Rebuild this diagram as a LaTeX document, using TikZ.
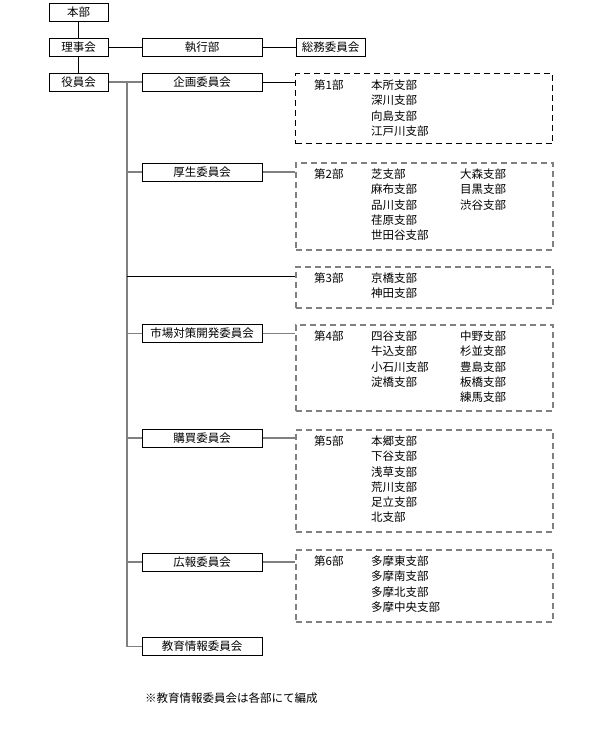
\documentclass[tikz,border=0pt]{standalone}
\usepackage{fontspec}
\newfontfamily\jpfont{Noto Sans CJK JP}
\usetikzlibrary{positioning}

\begin{document}
\begin{tikzpicture}[x=1pt,y=-1pt,
    schrift/.style={font=\jpfont\fontsize{11.5}{15.2}\selectfont},
    kasten/.style={draw,line width=1pt,minimum height=18pt,inner sep=0pt,schrift},
    linie/.style={line width=1pt},
    grau/.style={draw=gray,line width=1.5pt},
    bu/.style={draw=gray,line width=1.5pt,dash pattern=on 6pt off 4pt,minimum width=257pt,anchor=north west,inner sep=0pt},
    liste/.style={schrift,inner sep=0pt,align=left}]
    \useasboundingbox (0,0) rectangle (600,734);
    %Leitung
    \node[kasten,minimum width=59pt] (honbu) at (78.5,12) {本部};
    \node[kasten,minimum width=59pt] (rijikai) at (78.5,47) {理事会};
    \node[kasten,minimum width=59pt] (yakuin) at (78.5,82) {役員会};
    \node[kasten,minimum width=120pt] (shikko) at (202,47) {執行部};
    \node[kasten,minimum width=69pt] (somu) at (330.5,47) {総務委員会};
    %Ausschuesse
    \node[kasten,minimum width=120pt] (kikaku) at (202,82) {企画委員会};
    \node[kasten,minimum width=120pt] (kosei) at (202,172) {厚生委員会};
    \node[kasten,minimum width=120pt] (ichiba) at (202,333.5) {市場対策開発委員会};
    \node[kasten,minimum width=120pt] (kobai) at (202,438) {購買委員会};
    \node[kasten,minimum width=120pt] (koho) at (202,562) {広報委員会};
    \node[kasten,minimum width=120pt] (kyoiku) at (202,646.5) {教育情報委員会};
    %Bloecke
    \node[bu,draw=black,line width=1pt,minimum height=70pt] (bu1) at (295,73) {};
    \node[bu,minimum height=87pt] (bu2) at (295,162) {};
    \node[bu,minimum height=41pt] (bu3) at (295,266) {};
    \node[bu,minimum height=86pt] (bu4) at (295,324) {};
    \node[bu,minimum height=102pt] (bu5) at (295,429) {};
    \node[bu,minimum height=72pt] (bu6) at (295,549) {};
    \node[liste,below right=6.75pt and 19pt of bu1.north west] (b1) {第1部};
    \node[liste,below right=6.75pt and 76pt of bu1.north west] (b1a) {本所支部\\深川支部\\向島支部\\江戸川支部};
    \node[liste,below right=6.75pt and 19pt of bu2.north west] (b2) {第2部};
    \node[liste,below right=6.75pt and 76pt of bu2.north west] (b2a) {芝支部\\麻布支部\\品川支部\\荏原支部\\世田谷支部};
    \node[liste,below right=6.75pt and 165pt of bu2.north west] (b2b) {大森支部\\目黒支部\\渋谷支部};
    \node[liste,below right=6.75pt and 19pt of bu3.north west] (b3) {第3部};
    \node[liste,below right=6.75pt and 76pt of bu3.north west] (b3a) {京橋支部\\神田支部};
    \node[liste,below right=6.75pt and 19pt of bu4.north west] (b4) {第4部};
    \node[liste,below right=6.75pt and 76pt of bu4.north west] (b4a) {四谷支部\\牛込支部\\小石川支部\\淀橋支部};
    \node[liste,below right=6.75pt and 165pt of bu4.north west] (b4b) {中野支部\\杉並支部\\豊島支部\\板橋支部\\練馬支部};
    \node[liste,below right=6.75pt and 19pt of bu5.north west] (b5) {第5部};
    \node[liste,below right=6.75pt and 76pt of bu5.north west] (b5a) {本郷支部\\下谷支部\\浅草支部\\荒川支部\\足立支部\\北支部};
    \node[liste,below right=6.75pt and 19pt of bu6.north west] (b6) {第6部};
    \node[liste,below right=6.75pt and 76pt of bu6.north west] (b6a) {多摩東支部\\多摩南支部\\多摩北支部\\多摩中央支部};
    \node[schrift,anchor=west,inner sep=0pt] (hinweis) at (145,698) {※教育情報委員会は各部にて編成};
    %Linien
    \draw[linie] (honbu) -- (rijikai);
    \draw[linie] (rijikai) -- (yakuin);
    \draw[linie] (rijikai) -- (shikko);
    \draw[linie] (shikko) -- (somu);
    \draw[grau] (yakuin) -- (kikaku);
    \path (yakuin.east) ++(18.5,0) coordinate (stamm);
    \draw[grau] (stamm) |- (kyoiku);
    \foreach \k in {kosei,ichiba,kobai,koho}
        \draw[grau] (stamm |- \k) -- (\k);
    \draw[linie] (kikaku) -- (kikaku -| bu1.west);
    \foreach \k/\b in {kosei/bu2,ichiba/bu4,kobai/bu5,koho/bu6}
        \draw[grau] (\k) -- (\k -| \b.west);
    \coordinate (ast3) at ([yshift=-10pt]bu3.north west);
    \draw[linie] (stamm |- ast3) -- (ast3);
\end{tikzpicture}
\end{document}
